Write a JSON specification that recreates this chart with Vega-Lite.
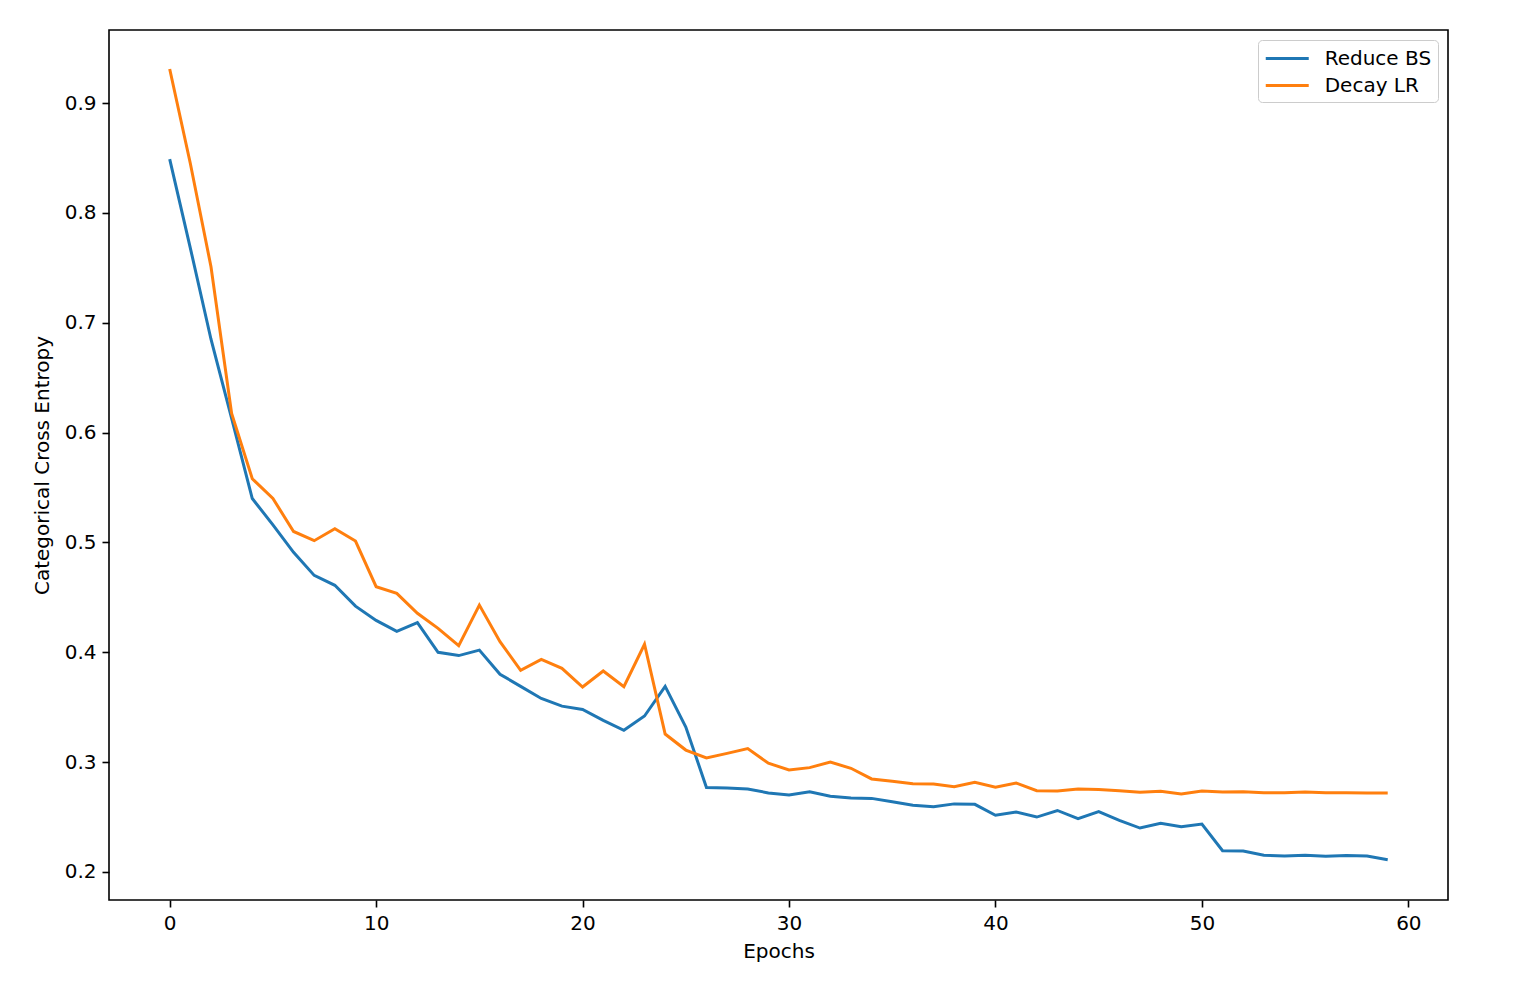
{
  "$schema": "https://vega.github.io/schema/vega-lite/v6.json",
  "width": 1339,
  "height": 870,
  "autosize": {"type": "none"},
  "padding": {"left": 109, "top": 30, "right": 90, "bottom": 86},
  "background": "white",
  "data": {
    "values": [
      {"epoch": 0, "loss": 0.849, "series": "Reduce BS"},
      {"epoch": 1, "loss": 0.768, "series": "Reduce BS"},
      {"epoch": 2, "loss": 0.685, "series": "Reduce BS"},
      {"epoch": 3, "loss": 0.613, "series": "Reduce BS"},
      {"epoch": 4, "loss": 0.540, "series": "Reduce BS"},
      {"epoch": 5, "loss": 0.516, "series": "Reduce BS"},
      {"epoch": 6, "loss": 0.491, "series": "Reduce BS"},
      {"epoch": 7, "loss": 0.470, "series": "Reduce BS"},
      {"epoch": 8, "loss": 0.461, "series": "Reduce BS"},
      {"epoch": 9, "loss": 0.442, "series": "Reduce BS"},
      {"epoch": 10, "loss": 0.429, "series": "Reduce BS"},
      {"epoch": 11, "loss": 0.419, "series": "Reduce BS"},
      {"epoch": 12, "loss": 0.427, "series": "Reduce BS"},
      {"epoch": 13, "loss": 0.400, "series": "Reduce BS"},
      {"epoch": 14, "loss": 0.397, "series": "Reduce BS"},
      {"epoch": 15, "loss": 0.402, "series": "Reduce BS"},
      {"epoch": 16, "loss": 0.380, "series": "Reduce BS"},
      {"epoch": 17, "loss": 0.369, "series": "Reduce BS"},
      {"epoch": 18, "loss": 0.358, "series": "Reduce BS"},
      {"epoch": 19, "loss": 0.351, "series": "Reduce BS"},
      {"epoch": 20, "loss": 0.348, "series": "Reduce BS"},
      {"epoch": 21, "loss": 0.338, "series": "Reduce BS"},
      {"epoch": 22, "loss": 0.329, "series": "Reduce BS"},
      {"epoch": 23, "loss": 0.342, "series": "Reduce BS"},
      {"epoch": 24, "loss": 0.369, "series": "Reduce BS"},
      {"epoch": 25, "loss": 0.332, "series": "Reduce BS"},
      {"epoch": 26, "loss": 0.277, "series": "Reduce BS"},
      {"epoch": 27, "loss": 0.2765, "series": "Reduce BS"},
      {"epoch": 28, "loss": 0.2755, "series": "Reduce BS"},
      {"epoch": 29, "loss": 0.272, "series": "Reduce BS"},
      {"epoch": 30, "loss": 0.270, "series": "Reduce BS"},
      {"epoch": 31, "loss": 0.273, "series": "Reduce BS"},
      {"epoch": 32, "loss": 0.269, "series": "Reduce BS"},
      {"epoch": 33, "loss": 0.2673, "series": "Reduce BS"},
      {"epoch": 34, "loss": 0.267, "series": "Reduce BS"},
      {"epoch": 35, "loss": 0.264, "series": "Reduce BS"},
      {"epoch": 36, "loss": 0.2607, "series": "Reduce BS"},
      {"epoch": 37, "loss": 0.2595, "series": "Reduce BS"},
      {"epoch": 38, "loss": 0.262, "series": "Reduce BS"},
      {"epoch": 39, "loss": 0.2616, "series": "Reduce BS"},
      {"epoch": 40, "loss": 0.2516, "series": "Reduce BS"},
      {"epoch": 41, "loss": 0.2546, "series": "Reduce BS"},
      {"epoch": 42, "loss": 0.250, "series": "Reduce BS"},
      {"epoch": 43, "loss": 0.256, "series": "Reduce BS"},
      {"epoch": 44, "loss": 0.2485, "series": "Reduce BS"},
      {"epoch": 45, "loss": 0.2549, "series": "Reduce BS"},
      {"epoch": 46, "loss": 0.247, "series": "Reduce BS"},
      {"epoch": 47, "loss": 0.240, "series": "Reduce BS"},
      {"epoch": 48, "loss": 0.2443, "series": "Reduce BS"},
      {"epoch": 49, "loss": 0.2413, "series": "Reduce BS"},
      {"epoch": 50, "loss": 0.2437, "series": "Reduce BS"},
      {"epoch": 51, "loss": 0.2194, "series": "Reduce BS"},
      {"epoch": 52, "loss": 0.2191, "series": "Reduce BS"},
      {"epoch": 53, "loss": 0.2152, "series": "Reduce BS"},
      {"epoch": 54, "loss": 0.2146, "series": "Reduce BS"},
      {"epoch": 55, "loss": 0.2152, "series": "Reduce BS"},
      {"epoch": 56, "loss": 0.2143, "series": "Reduce BS"},
      {"epoch": 57, "loss": 0.2149, "series": "Reduce BS"},
      {"epoch": 58, "loss": 0.2146, "series": "Reduce BS"},
      {"epoch": 59, "loss": 0.2112, "series": "Reduce BS"},
      {"epoch": 0, "loss": 0.931, "series": "Decay LR"},
      {"epoch": 1, "loss": 0.845, "series": "Decay LR"},
      {"epoch": 2, "loss": 0.751, "series": "Decay LR"},
      {"epoch": 3, "loss": 0.6175, "series": "Decay LR"},
      {"epoch": 4, "loss": 0.558, "series": "Decay LR"},
      {"epoch": 5, "loss": 0.540, "series": "Decay LR"},
      {"epoch": 6, "loss": 0.510, "series": "Decay LR"},
      {"epoch": 7, "loss": 0.5016, "series": "Decay LR"},
      {"epoch": 8, "loss": 0.5125, "series": "Decay LR"},
      {"epoch": 9, "loss": 0.5013, "series": "Decay LR"},
      {"epoch": 10, "loss": 0.4597, "series": "Decay LR"},
      {"epoch": 11, "loss": 0.4537, "series": "Decay LR"},
      {"epoch": 12, "loss": 0.4355, "series": "Decay LR"},
      {"epoch": 13, "loss": 0.4218, "series": "Decay LR"},
      {"epoch": 14, "loss": 0.406, "series": "Decay LR"},
      {"epoch": 15, "loss": 0.443, "series": "Decay LR"},
      {"epoch": 16, "loss": 0.4097, "series": "Decay LR"},
      {"epoch": 17, "loss": 0.3836, "series": "Decay LR"},
      {"epoch": 18, "loss": 0.3936, "series": "Decay LR"},
      {"epoch": 19, "loss": 0.3854, "series": "Decay LR"},
      {"epoch": 20, "loss": 0.3684, "series": "Decay LR"},
      {"epoch": 21, "loss": 0.383, "series": "Decay LR"},
      {"epoch": 22, "loss": 0.3687, "series": "Decay LR"},
      {"epoch": 23, "loss": 0.4073, "series": "Decay LR"},
      {"epoch": 24, "loss": 0.3256, "series": "Decay LR"},
      {"epoch": 25, "loss": 0.311, "series": "Decay LR"},
      {"epoch": 26, "loss": 0.3038, "series": "Decay LR"},
      {"epoch": 27, "loss": 0.308, "series": "Decay LR"},
      {"epoch": 28, "loss": 0.3123, "series": "Decay LR"},
      {"epoch": 29, "loss": 0.299, "series": "Decay LR"},
      {"epoch": 30, "loss": 0.2929, "series": "Decay LR"},
      {"epoch": 31, "loss": 0.295, "series": "Decay LR"},
      {"epoch": 32, "loss": 0.3001, "series": "Decay LR"},
      {"epoch": 33, "loss": 0.2944, "series": "Decay LR"},
      {"epoch": 34, "loss": 0.2847, "series": "Decay LR"},
      {"epoch": 35, "loss": 0.2826, "series": "Decay LR"},
      {"epoch": 36, "loss": 0.2804, "series": "Decay LR"},
      {"epoch": 37, "loss": 0.2801, "series": "Decay LR"},
      {"epoch": 38, "loss": 0.2777, "series": "Decay LR"},
      {"epoch": 39, "loss": 0.2817, "series": "Decay LR"},
      {"epoch": 40, "loss": 0.2771, "series": "Decay LR"},
      {"epoch": 41, "loss": 0.281, "series": "Decay LR"},
      {"epoch": 42, "loss": 0.274, "series": "Decay LR"},
      {"epoch": 43, "loss": 0.2737, "series": "Decay LR"},
      {"epoch": 44, "loss": 0.2756, "series": "Decay LR"},
      {"epoch": 45, "loss": 0.275, "series": "Decay LR"},
      {"epoch": 46, "loss": 0.274, "series": "Decay LR"},
      {"epoch": 47, "loss": 0.2725, "series": "Decay LR"},
      {"epoch": 48, "loss": 0.2734, "series": "Decay LR"},
      {"epoch": 49, "loss": 0.271, "series": "Decay LR"},
      {"epoch": 50, "loss": 0.2737, "series": "Decay LR"},
      {"epoch": 51, "loss": 0.2728, "series": "Decay LR"},
      {"epoch": 52, "loss": 0.2731, "series": "Decay LR"},
      {"epoch": 53, "loss": 0.2722, "series": "Decay LR"},
      {"epoch": 54, "loss": 0.2722, "series": "Decay LR"},
      {"epoch": 55, "loss": 0.2728, "series": "Decay LR"},
      {"epoch": 56, "loss": 0.2722, "series": "Decay LR"},
      {"epoch": 57, "loss": 0.2722, "series": "Decay LR"},
      {"epoch": 58, "loss": 0.2719, "series": "Decay LR"},
      {"epoch": 59, "loss": 0.2719, "series": "Decay LR"}
    ]
  },
  "mark": {"type": "line", "strokeWidth": 3, "clip": true},
  "encoding": {
    "x": {
      "field": "epoch",
      "type": "quantitative",
      "title": "Epochs",
      "scale": {"domain": [-2.94, 61.92], "nice": false, "zero": false},
      "axis": {"values": [0, 10, 20, 30, 40, 50, 60], "format": "d", "titlePadding": 8}
    },
    "y": {
      "field": "loss",
      "type": "quantitative",
      "title": "Categorical Cross Entropy",
      "scale": {"domain": [0.1745, 0.9665], "nice": false, "zero": false},
      "axis": {"values": [0.2, 0.3, 0.4, 0.5, 0.6, 0.7, 0.8, 0.9], "format": ".1f", "titlePadding": 12}
    },
    "color": {
      "field": "series",
      "type": "nominal",
      "sort": ["Reduce BS", "Decay LR"],
      "scale": {"domain": ["Reduce BS", "Decay LR"], "range": ["#1f77b4", "#ff7f0e"]},
      "legend": {
        "title": null,
        "orient": "top-right",
        "offset": 10,
        "symbolType": "M-1,0H3",
        "symbolSize": 462,
        "symbolStrokeWidth": 3,
        "labelFontSize": 20,
        "labelFont": "DejaVu Sans",
        "labelColor": "black",
        "labelOffset": 35.7,
        "rowPadding": 4,
        "padding": 6,
        "fillColor": "rgba(255,255,255,0.8)",
        "strokeColor": "#cccccc",
        "cornerRadius": 4
      }
    }
  },
  "config": {
    "font": "DejaVu Sans",
    "view": {"stroke": "black", "strokeWidth": 1.6},
    "axis": {
      "grid": false,
      "domain": false,
      "labelFont": "DejaVu Sans",
      "titleFont": "DejaVu Sans",
      "labelFontSize": 20,
      "titleFontSize": 20,
      "titleFontWeight": "normal",
      "labelColor": "black",
      "titleColor": "black",
      "tickColor": "black",
      "tickSize": 7,
      "tickWidth": 1.6,
      "labelPadding": 6
    }
  }
}
